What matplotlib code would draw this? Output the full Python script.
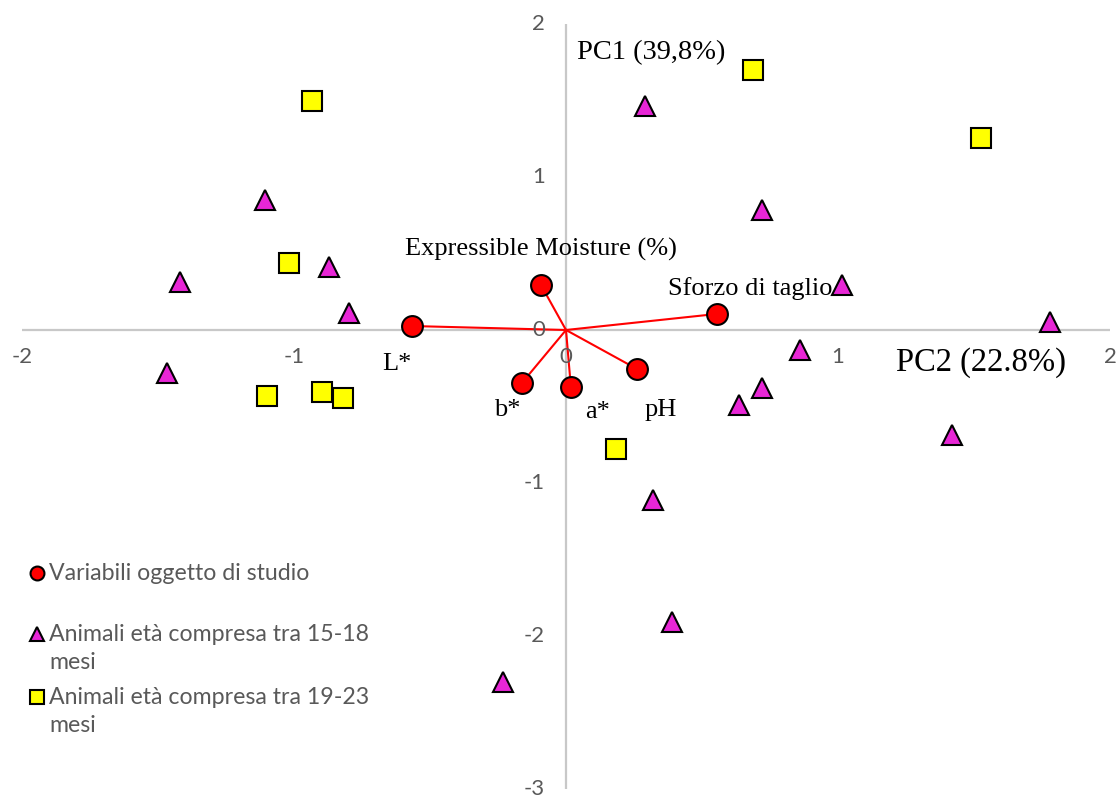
import matplotlib
matplotlib.use("Agg")
import matplotlib.pyplot as plt
from matplotlib.lines import Line2D

# PCA loadings of the studied variables
var_names = ["L*", "Expressible Moisture (%)", "Sforzo di taglio", "b*", "a*", "pH"]
var_x = [-0.566, -0.092, 0.555, -0.162, 0.018, 0.261]
var_y = [0.026, 0.294, 0.105, -0.346, -0.373, -0.255]

# scores, animals aged 15-18 months
grp1_x = [0.29, -1.107, 0.721, -1.419, -0.871, -0.798, 1.015, 1.779,
          -1.467, 0.86, 0.721, 0.636, 1.419, 0.32, 0.39, -0.232]
grp1_y = [1.464, 0.85, 0.784, 0.314, 0.412, 0.111, 0.294, 0.052,
          -0.281, -0.131, -0.379, -0.49, -0.686, -1.111, -1.908, -2.30]

# scores, animals aged 19-23 months
grp2_x = [0.688, -0.934, 1.526, -1.018, -1.099, -0.897, -0.82, 0.184]
grp2_y = [1.699, 1.497, 1.255, 0.438, -0.431, -0.405, -0.444, -0.778]

x_ticks = [-2, -1, 0, 1, 2]
y_ticks = [2, 1, 0, -1, -2, -3]

legend_labels = ["Variabili oggetto di studio",
                 "Animali età compresa tra 15-18\nmesi",
                 "Animali età compresa tra 19-23\nmesi"]

gray = "#595959"
magenta = "#E826D6"
sans = "Lato"
serif = "Liberation Serif"

fig = plt.figure(figsize=(11.19, 8.02), dpi=100)
ax = fig.add_axes([22 / 1119, 1 - 789 / 802, 1088 / 1119, 765 / 802])
ax.set_xlim(-2, 2)
ax.set_ylim(-3, 2)
ax.axis("off")

# axes through the origin
ax.axhline(0, color="#C8C8C8", lw=1.6, zorder=1)
ax.axvline(0, color="#C8C8C8", lw=1.6, zorder=1)

for t in x_ticks:
    ax.annotate(str(t), (t, 0), xytext=(0, -27), textcoords="offset pixels",
                ha="center", va="center", fontsize=16, color=gray, family=sans)
for t in y_ticks:
    ax.annotate(str(t), (0, t), xytext=(-21, 0), textcoords="offset pixels",
                ha="right", va="center", fontsize=16, color=gray, family=sans)

# loading vectors
for vx, vy in zip(var_x, var_y):
    ax.plot([0, vx], [0, vy], color="red", lw=1.5, zorder=2)

ax.plot(grp1_x, grp1_y, "^", ms=15, mfc=magenta, mec="black", mew=1.5, ls="none", zorder=3)
ax.plot(grp2_x, grp2_y, "s", ms=15, mfc="#FFFF00", mec="black", mew=1.5, ls="none", zorder=3)
ax.plot(var_x, var_y, "o", ms=15, mfc="#FF0000", mec="black", mew=1.5, ls="none", zorder=4)

# variable labels
label_offsets = {
    "L*": (-15, -38),
    "Expressible Moisture (%)": (0, 36),
    "Sforzo di taglio": (33, 25),
    "b*": (-15, -27),
    "a*": (27, -25),
    "pH": (24, -41),
}
for name, vx, vy in zip(var_names, var_x, var_y):
    dx, dy = label_offsets[name]
    ax.annotate(name, (vx, vy), xytext=(dx, dy), textcoords="offset pixels",
                ha="center", va="center", fontsize=19, family=serif, color="black")

ax.text(0.04, 1.81, "PC1 (39,8%)", fontsize=20.5, family=serif, va="center", ha="left")
ax.text(1.214, -0.21, "PC2 (22.8%)", fontsize=23.5, family=serif, va="center", ha="left")

# legend drawn by hand
leg_y = [573, 634, 697]
leg_markers = [("o", "#FF0000"), ("^", magenta), ("s", "#FFFF00")]
for (mk, fc), py, lab in zip(leg_markers, leg_y, legend_labels):
    yf = 1 - py / 802
    fig.add_artist(Line2D([37 / 1119], [yf], marker=mk, ms=10, mfc=fc, mec="black",
                          mew=1.5, ls="none", transform=fig.transFigure))
    fig.text(49 / 1119, yf + 10 / 802, lab, fontsize=16.7, color=gray, family=sans,
             va="top", ha="left", linespacing=1.42)

fig.savefig("out.png", dpi=100)
